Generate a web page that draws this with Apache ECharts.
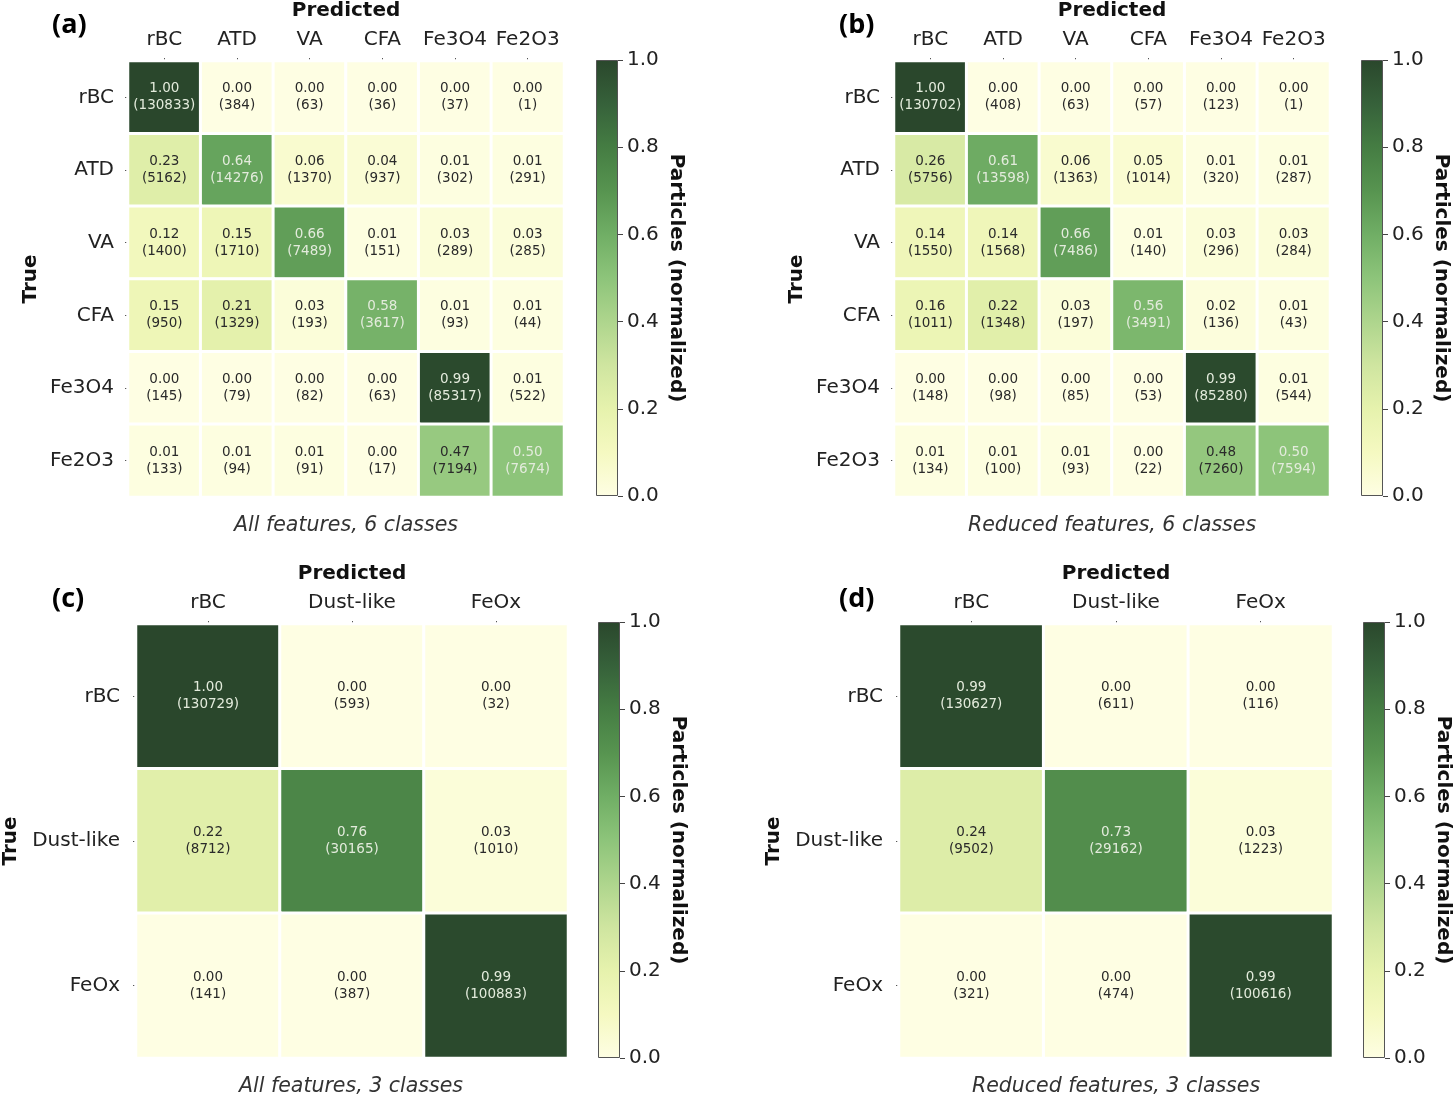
<!DOCTYPE html>
<html><head><meta charset="utf-8">
<script src="https://cdn.jsdelivr.net/npm/echarts@6/dist/echarts.min.js"></script>
<style>html,body{margin:0;padding:0;background:#fff}#c{width:1456px;height:1097px}</style>
</head><body><div id="c"></div>
<script>
// ---------- data ----------
const cats6 = ['rBC','ATD','VA','CFA','Fe3O4','Fe2O3'];
const cats3 = ['rBC','Dust-like','FeOx'];
const a_norm = [[1.00,0.00,0.00,0.00,0.00,0.00],[0.23,0.64,0.06,0.04,0.01,0.01],[0.12,0.15,0.66,0.01,0.03,0.03],[0.15,0.21,0.03,0.58,0.01,0.01],[0.00,0.00,0.00,0.00,0.99,0.01],[0.01,0.01,0.01,0.00,0.47,0.50]];
const a_count = [[130833,384,63,36,37,1],[5162,14276,1370,937,302,291],[1400,1710,7489,151,289,285],[950,1329,193,3617,93,44],[145,79,82,63,85317,522],[133,94,91,17,7194,7674]];
const b_norm = [[1.00,0.00,0.00,0.00,0.00,0.00],[0.26,0.61,0.06,0.05,0.01,0.01],[0.14,0.14,0.66,0.01,0.03,0.03],[0.16,0.22,0.03,0.56,0.02,0.01],[0.00,0.00,0.00,0.00,0.99,0.01],[0.01,0.01,0.01,0.00,0.48,0.50]];
const b_count = [[130702,408,63,57,123,1],[5756,13598,1363,1014,320,287],[1550,1568,7486,140,296,284],[1011,1348,197,3491,136,43],[148,98,85,53,85280,544],[134,100,93,22,7260,7594]];
const c_norm = [[1.00,0.00,0.00],[0.22,0.76,0.03],[0.00,0.00,0.99]];
const c_count = [[130729,593,32],[8712,30165,1010],[141,387,100883]];
const d_norm = [[0.99,0.00,0.00],[0.24,0.73,0.03],[0.00,0.00,0.99]];
const d_count = [[130627,611,116],[9502,29162,1223],[321,474,100616]];
const cbTicks = [0.0,0.2,0.4,0.6,0.8,1.0];
const subtitles = ['All features, 6 classes','Reduced features, 6 classes','All features, 3 classes','Reduced features, 3 classes'];
const letters = ['(a)','(b)','(c)','(d)'];

// ---------- style ----------
const cmap = ['#fefee3','#f5f9c1','#e6f2ad','#cfe5a0','#aed58d','#8dc47a','#70ae65','#579450','#457d43','#36613a','#2a472c'];
const FONT = 'DejaVu Sans';

const panels = [
  {norm:a_norm, count:a_count, cats:cats6, grid:{left:128, top:61, width:436, height:436}, cb:{left:596, top:60, width:22, height:436}, trueGap:87, ym:14},
  {norm:b_norm, count:b_count, cats:cats6, grid:{left:894, top:61, width:436, height:436}, cb:{left:1361, top:60, width:22, height:436}, trueGap:87, ym:14},
  {norm:c_norm, count:c_count, cats:cats3, grid:{left:134, top:624, width:434, height:434}, cb:{left:598, top:622, width:22, height:436}, trueGap:115, ym:16},
  {norm:d_norm, count:d_count, cats:cats3, grid:{left:899, top:624, width:434, height:434}, cb:{left:1363, top:622, width:22, height:436}, trueGap:115, ym:16}
];

const grids=[], xAxes=[], yAxes=[], series=[], titles=[];
const gradStops = cmap.map((c,i)=>({offset:i/(cmap.length-1), color:c}));

panels.forEach((p,k)=>{
  grids.push(Object.assign({}, p.grid));
  grids.push(Object.assign({}, p.cb));
  const gi = 2*k, ci = 2*k+1;
  xAxes.push({gridIndex:gi, type:'category', position:'top', data:p.cats,
    name:'Predicted', nameLocation:'middle', nameGap:40,
    nameTextStyle:{fontFamily:FONT, fontWeight:'bold', fontSize:20, color:'#111'},
    axisLine:{show:false}, axisTick:{show:true, alignWithLabel:true, interval:0, length:3, lineStyle:{color:'#555'}},
    axisLabel:{interval:0, fontFamily:FONT, fontSize:20, color:'#222', margin:11}, splitLine:{show:false}});
  yAxes.push({gridIndex:gi, type:'category', inverse:true, data:p.cats,
    name:'True', nameLocation:'middle', nameGap:p.trueGap, nameRotate:90,
    nameTextStyle:{fontFamily:FONT, fontWeight:'bold', fontSize:20, color:'#111'},
    axisLine:{show:false}, axisTick:{show:true, alignWithLabel:true, interval:0, length:3, lineStyle:{color:'#555'}},
    axisLabel:{interval:0, fontFamily:FONT, fontSize:20, color:'#222', margin:p.ym}, splitLine:{show:false}});
  xAxes.push({gridIndex:ci, type:'category', data:[''], show:false});
  yAxes.push({gridIndex:ci, type:'value', position:'right', min:cbTicks[0], max:cbTicks[cbTicks.length-1], interval:0.2,
    name:'Particles (normalized)', nameLocation:'middle', nameGap:48, nameRotate:-90,
    nameTextStyle:{fontFamily:FONT, fontWeight:'bold', fontSize:20, color:'#111'},
    axisLine:{show:false}, axisTick:{show:true, length:5, lineStyle:{color:'#444'}},
    axisLabel:{fontFamily:FONT, fontSize:20, color:'#222', margin:9, formatter:v=>v.toFixed(1)},
    splitLine:{show:false}});
  const data=[];
  p.norm.forEach((row,r)=>row.forEach((v,c)=>{
    data.push({value:[c,r,v,p.count[r][c]], label:{color: v>=0.49 ? '#e3ebdc' : '#2a2a2a'}});
  }));
  series.push({type:'heatmap', xAxisIndex:gi, yAxisIndex:gi, data:data,
    itemStyle:{borderColor:'#fff', borderWidth:3},
    label:{show:true, fontFamily:FONT, fontSize:13.5, lineHeight:17,
      formatter:pp=>pp.value[2].toFixed(2)+'\n('+pp.value[3]+')'},
    emphasis:{disabled:true}});
  series.push({type:'bar', xAxisIndex:ci, yAxisIndex:ci, data:[1], barWidth:'100%', silent:true,
    itemStyle:{color:new echarts.graphic.LinearGradient(0,1,0,0,gradStops), borderColor:'#555', borderWidth:1}});
  const cx = p.grid.left + p.grid.width/2 - 5;
  titles.push({text:subtitles[k], left:cx, textAlign:'center', top:p.grid.top+p.grid.height+14,
    textStyle:{fontFamily:FONT, fontStyle:'italic', fontWeight:'normal', fontSize:20.5, color:'#333'}});
  titles.push({text:letters[k], left: k%2===0 ? 47 : 834, top: k<2 ? 7 : 581,
    textStyle:{fontFamily:'Open Sans', fontWeight:'bold', fontSize:27, color:'#000'}});
});

const chart = echarts.init(document.getElementById('c'), null, {renderer:'canvas'});
chart.setOption({
  animation:false, backgroundColor:'#fff',
  title:titles, grid:grids, xAxis:xAxes, yAxis:yAxes,
  visualMap:{show:false, type:'continuous', min:0, max:1, dimension:2, seriesIndex:[0,2,4,6], inRange:{color:cmap}},
  series:series
});
</script></body></html>
